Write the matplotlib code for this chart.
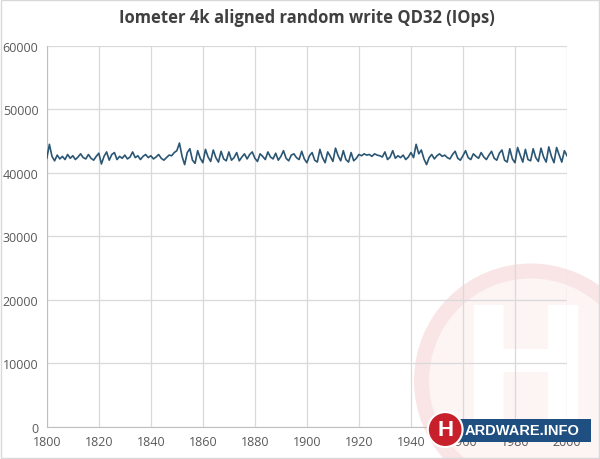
import numpy as np
import matplotlib.pyplot as plt
from matplotlib.patches import Ellipse, Rectangle

# sample index on the x axis
x_start = 1800
iops = [
    42300, 44500, 42600, 41900, 42800, 42200, 42600, 42100, 42900, 42300,
    42700, 42100, 42500, 43000, 42400, 42200, 42900, 42300, 42000, 42600,
    43100, 41400, 42600, 43300, 42000, 42900, 43200, 42100, 42600, 42300,
    42800, 42200, 42500, 43300, 42400, 42700, 42100, 42600, 42900, 42400,
    42700, 42200, 42500, 42900, 42300, 42000, 42400, 42800, 42700, 43200,
    43500, 44700, 42600, 41300, 43200, 43800, 42000, 41500, 43500, 42300,
    41600, 43700, 42500, 41800, 43600, 42400, 41700, 43400, 42200, 41900,
    43300, 42000, 42400, 43200, 41900, 42500, 43000, 42200, 42900, 43300,
    42300, 41800, 43000, 42600, 42100, 43300, 42500, 42200, 43100, 42000,
    42600, 43500, 42300, 41900, 42800, 43000, 42400, 42100, 43400, 42200,
    41600, 42700, 43200, 42000, 41700, 43700, 42400, 41600, 43300, 42600,
    41800, 43900, 42700, 41900, 43500, 42100, 41700, 43200, 41900, 42300,
    42900, 42700, 43000, 42800, 42900, 42600, 43000, 42800, 42700, 42500,
    43300, 42100, 42500, 43500, 42300, 42700, 42400, 42800, 42100, 42500,
    43200, 42400, 44500, 43000, 43600, 42200, 41300, 42400, 42900, 42200,
    42700, 43000, 42600, 42800, 42400, 42200, 42900, 43400, 42300, 42000,
    42700, 43500, 42400, 42100, 43000, 42600, 42300, 43200, 42500, 42100,
    42800, 43400, 42300, 42000, 43100, 43600, 42000, 41700, 43800, 42200,
    41600, 44000, 42800, 41700, 43700, 42100, 41900, 43800, 42400, 41800,
    43900, 42500, 41700, 44100, 42600, 41600, 44000, 42800, 41700, 43500,
    42700,
]
x_vals = np.arange(x_start, x_start + len(iops))
x_ticks = list(range(1800, 2001, 20))
y_ticks = list(range(0, 60001, 10000))

fig = plt.figure(figsize=(6, 4.6), dpi=100)
fig.patch.set_facecolor('white')

# faint watermark behind the plot
cx, cy = 0.885, 0.17
fig.patches.append(Ellipse((cx, cy), 0.39, 0.51, transform=fig.transFigure,
                           facecolor='#f9e5e5', edgecolor='none', zorder=-3))
fig.patches.append(Ellipse((cx, cy), 0.34, 0.445, transform=fig.transFigure,
                           facecolor='#fdf4f4', edgecolor='none', zorder=-3))
fig.text(cx - 0.01, cy + 0.01, 'H', fontsize=115, fontweight='bold', color='white',
         ha='center', va='center', zorder=-2, family='DejaVu Sans')

ax = fig.add_axes([0.078, 0.07, 0.867, 0.828])
ax.patch.set_alpha(0)
ax.plot(x_vals, iops, color='#2a5674', linewidth=1.2, zorder=3,
        solid_joinstyle='round')

ax.set_xlim(1800, 2000)
ax.set_ylim(0, 60000)
ax.set_xticks(x_ticks)
ax.set_yticks(y_ticks)
ax.grid(True, color='#d9d9d9', linewidth=0.9, zorder=1)
for side in ['top', 'right']:
    ax.spines[side].set_visible(False)
for side in ['left', 'bottom']:
    ax.spines[side].set_color('#bfbfbf')
ax.tick_params(length=0, labelsize=9, colors='#595959', pad=6)
for lab in ax.get_xticklabels() + ax.get_yticklabels():
    lab.set_family('Open Sans')

ax.set_title('Iometer 4k aligned random write QD32 (IOps)', fontsize=12,
             fontweight='bold', color='#404040', family='Open Sans', pad=17)

# logo at the bottom right
fig.patches.append(Rectangle((0.735, 0.036), 0.25, 0.052, transform=fig.transFigure,
                             facecolor='#1f4f80', edgecolor='none', zorder=5))
fig.patches.append(Ellipse((0.742, 0.064), 0.058, 0.076, transform=fig.transFigure,
                           facecolor='#c8202a', edgecolor='white', linewidth=1.5, zorder=6))
fig.text(0.742, 0.064, 'H', fontsize=16, fontweight='bold', color='white',
         ha='center', va='center', zorder=7, family='Liberation Sans')
fig.text(0.775, 0.062, 'ARDWARE.INFO', fontsize=10.5, fontweight='bold', color='white',
         ha='left', va='center', zorder=7, family='Liberation Sans')

# chart border
fig.patches.append(Rectangle((0.002, 0.002), 0.996, 0.996, transform=fig.transFigure,
                             facecolor='none', edgecolor='#d9d9d9', linewidth=1.0, zorder=8))

fig.savefig('out.png', dpi=100)
